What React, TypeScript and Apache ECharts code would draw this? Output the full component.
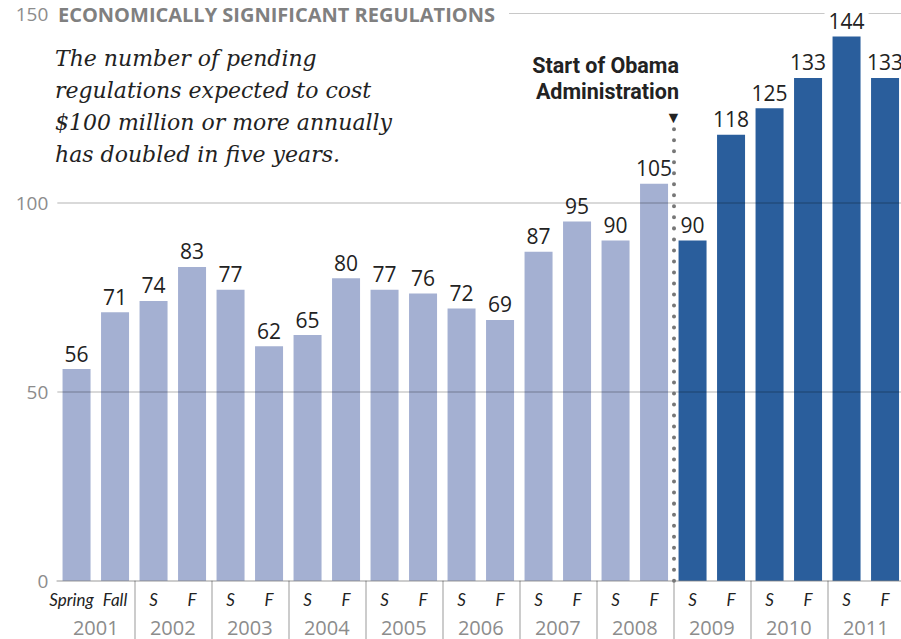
import React, { useEffect, useRef } from 'react';
import * as echarts from 'echarts';

const seasons = ['Spring', 'Fall', 'S', 'F', 'S', 'F', 'S', 'F', 'S', 'F', 'S', 'F', 'S', 'F', 'S', 'F', 'S', 'F', 'S', 'F', 'S', 'F'];
const values = [56, 71, 74, 83, 77, 62, 65, 80, 77, 76, 72, 69, 87, 95, 90, 105, 90, 118, 125, 133, 144, 133];
const years = ['2001', '2002', '2003', '2004', '2005', '2006', '2007', '2008', '2009', '2010', '2011'];
const yMin = 0;
const yMax = 150;
const yInterval = 50;
const obamaStartYear = '2009';
const titleText = 'ECONOMICALLY SIGNIFICANT REGULATIONS';
const subtitleText = 'The number of pending\nregulations expected to cost\n$100 million or more annually\nhas doubled in five years.';
const annotationText = 'Start of Obama\nAdministration';
const annotationTop = 120;

const LIGHT = '#a4b0d2';
const DARK = '#2a5e9c';

export default function App() {
  const ref = useRef<HTMLDivElement>(null);
  useEffect(() => {
    if (!ref.current) return;
    const chart = echarts.init(ref.current, null, { renderer: 'svg' });
    const startIdx = years.indexOf(obamaStartYear) * 2;
    const boundary = startIdx - 0.5;
    const gridBox = { left: 57.3, right: -3.3, top: 13.7, bottom: 58.3, outerBoundsMode: 'none', containLabel: false };
    const option: any = {
      animation: false,
      backgroundColor: '#fff',
      title: {
        text: titleText,
        left: 56,
        top: 0,
        padding: [2, 14, 2, 2],
        backgroundColor: '#fff',
        textStyle: { fontFamily: 'Open Sans', fontWeight: 'bold', fontSize: 20, color: '#808080', lineHeight: 24 },
      },
      grid: [{ ...gridBox }, { ...gridBox }, { ...gridBox }],
      xAxis: [
        {
          type: 'category',
          gridIndex: 0,
          data: seasons,
          position: 'bottom',
          z: 3,
          axisLine: { show: true, lineStyle: { color: 'rgba(0,0,0,0.2)', width: 2 } },
          axisTick: { show: false },
          axisLabel: {
            interval: 0,
            margin: 10,
            fontFamily: 'Lato',
            fontStyle: 'italic',
            fontSize: 17,
            color: '#222',
            formatter: (v: string, i: number) => (i === 0 ? '{sp|' + v + '}' : v),
            rich: {
              sp: { fontFamily: 'Lato', fontStyle: 'italic', fontSize: 17, color: '#222', padding: [0, 10, 0, 0] },
            },
          },
        },
        {
          type: 'category',
          gridIndex: 0,
          data: seasons,
          position: 'top',
          z: 1,
          axisLine: { show: true, lineStyle: { color: '#c8c8c8', width: 1 } },
          axisTick: { show: false },
          axisLabel: { show: false },
        },
        {
          type: 'category',
          gridIndex: 1,
          data: years,
          position: 'bottom',
          z: 0,
          axisLine: { show: false },
          axisTick: {
            show: true,
            length: 60,
            interval: (index: number) => index !== 0,
            lineStyle: { color: '#cccccc', width: 2 },
          },
          axisLabel: {
            interval: 0,
            margin: 37,
            fontFamily: 'Open Sans',
            fontSize: 20,
            color: '#8c8c8c',
          },
        },
        {
          type: 'value',
          gridIndex: 2,
          min: -0.5,
          max: values.length - 0.5,
          show: false,
          splitLine: { show: false },
        },
      ],
      yAxis: [
        {
          type: 'value',
          gridIndex: 0,
          min: yMin,
          max: yMax,
          interval: yInterval,
          z: 3,
          axisLine: { show: false },
          axisTick: { show: false },
          axisLabel: { margin: 9, fontFamily: 'Open Sans', fontSize: 19, color: '#8c8c8c' },
          splitLine: {
            show: true,
            showMinLine: false,
            showMaxLine: false,
            lineStyle: { color: 'rgba(0,0,0,0.2)', width: 1.5 },
          },
        },
        { type: 'value', gridIndex: 1, min: yMin, max: yMax, interval: yInterval, show: false, splitLine: { show: false } },
        { type: 'value', gridIndex: 2, min: yMin, max: yMax, interval: yInterval, show: false, splitLine: { show: false } },
      ],
      graphic: [
        {
          type: 'text',
          left: 55,
          top: 42,
          z: 10,
          style: {
            text: subtitleText,
            font: 'italic 22px "DejaVu Serif"',
            lineHeight: 32,
            fill: '#222',
          },
        },
        {
          type: 'text',
          right: 222,
          top: 52,
          z: 10,
          style: {
            text: annotationText,
            font: 'bold 21.5px Roboto',
            textAlign: 'right',
            lineHeight: 26,
            fill: '#222',
          },
        },
      ],
      series: [
        {
          type: 'bar',
          xAxisIndex: 0,
          yAxisIndex: 0,
          z: 2,
          barWidth: 28,
          data: values.map((v, i) => ({
            value: v,
            itemStyle: { color: i >= startIdx ? DARK : LIGHT },
          })),
          label: {
            show: true,
            position: 'top',
            distance: 5,
            fontFamily: 'Open Sans',
            fontSize: 21,
            color: '#222',
            backgroundColor: '#fff',
            padding: [0, 4],
          },
        },
        {
          type: 'line',
          xAxisIndex: 3,
          yAxisIndex: 2,
          z: 4,
          silent: true,
          symbol: 'none',
          data: [],
          markLine: {
            silent: true,
            symbol: ['none', 'none'],
            lineStyle: { color: '#777', type: [0.01, 11], width: 4, cap: 'round' },
            label: {
              show: true,
              position: 'end',
              formatter: '▼',
              fontSize: 16,
              color: '#222',
              distance: 2,
            },
            data: [[{ coord: [boundary, 0] }, { coord: [boundary, annotationTop] }]],
          },
        },
      ],
    };
    chart.setOption(option);
    return () => chart.dispose();
  }, []);
  return <div ref={ref} style={{ position: 'fixed', left: 0, top: 0, width: 901, height: 639 }} />;
}
